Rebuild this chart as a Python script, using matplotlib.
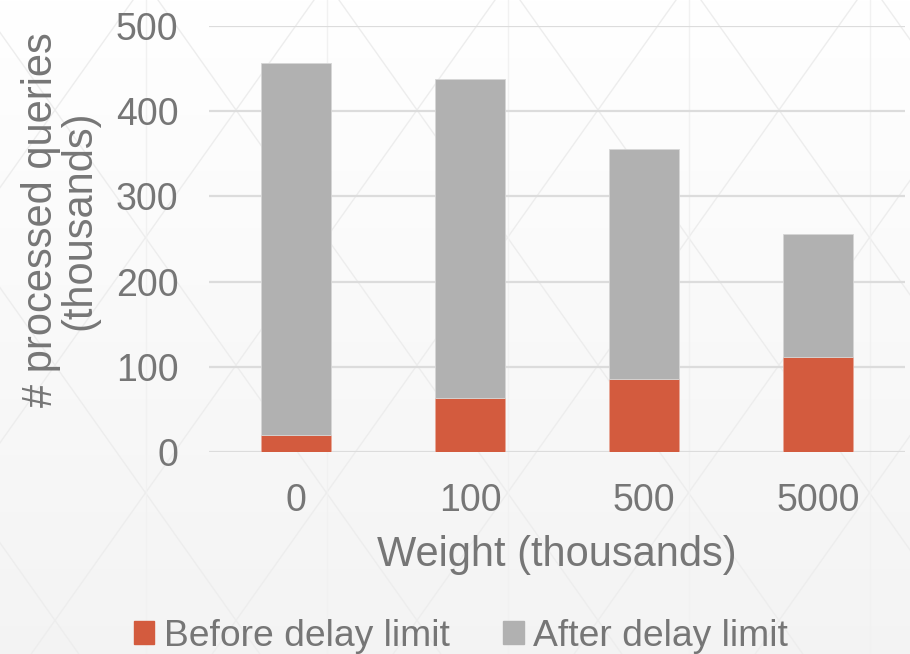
import numpy as np
import matplotlib
matplotlib.use("Agg")
import matplotlib.pyplot as plt
from matplotlib.patches import Patch

# data (thousands of queries)
weights = ["0", "100", "500", "5000"]
before_limit = [20, 63, 86, 112]
after_limit = [437, 375, 270, 144]
series_names = ["Before delay limit", "After delay limit"]

red = "#D35B3E"
grey = "#B1B1B1"
text_col = "#767676"

plt.rcParams["font.family"] = ["Liberation Sans", "DejaVu Sans"]

W, H = 910, 654
fig = plt.figure(figsize=(W / 100, H / 100), dpi=100)

# background: soft vertical gradient with a faint triangle lattice
bg = fig.add_axes([0, 0, 1, 1], zorder=-10)
grad = np.linspace(1.0, 0.955, 256).reshape(-1, 1)
bg.imshow(np.dstack([grad, grad, grad]), extent=[0, W, H, 0], aspect="auto")
slope = 1.41
period = 181
x0, y0 = 417, 110
for k in range(-12, 14):
    a = x0 + k * period
    ys = np.array([-50, H + 50])
    bg.plot(a + (ys - y0) / slope, ys, color="#ededed", lw=1.0)
    bg.plot(a - (ys - y0) / slope, ys, color="#ededed", lw=1.0)
for k in range(-3, 6):
    bg.axvline(x0 - period / 2 + k * period, color="#f1f1f1", lw=1.0)
bg.set_xlim(0, W)
bg.set_ylim(H, 0)
bg.axis("off")

ax = fig.add_axes([209 / W, 1 - 452 / H, 696 / W, 426 / H])
ax.set_facecolor("none")

x = np.arange(len(weights))
ax.bar(x, before_limit, width=0.4, color=red, edgecolor="#e8a898", lw=0.6, zorder=3)
ax.bar(x, after_limit, width=0.4, bottom=before_limit, color=grey,
       edgecolor="#d6d6d6", lw=0.6, zorder=3)

ax.set_xlim(-0.5, 3.5)
ax.set_ylim(0, 500)
ax.set_yticks(range(0, 501, 100))
ax.set_xticks(x)
ax.set_xticklabels(weights)
ax.yaxis.grid(True, color="#dcdcdc", lw=1.6, zorder=0)
ax.set_axisbelow(True)
for s in ax.spines.values():
    s.set_visible(False)
ax.tick_params(axis="both", length=0, labelsize=27, labelcolor=text_col)
ax.tick_params(axis="y", pad=22)
ax.tick_params(axis="x", pad=22)

ax.set_xlabel("Weight (thousands)", fontsize=30, color=text_col, labelpad=12)
fig.text(60 / W, 1 - 220 / H, "# processed queries\n(thousands)", rotation=90,
         ha="center", va="center", fontsize=30, color=text_col, linespacing=0.95)

handles = [Patch(color=red), Patch(color=grey)]
fig.legend(handles, series_names, loc="center", bbox_to_anchor=(461 / W, 1 - 636 / H),
           ncol=2, frameon=False, fontsize=26.8, labelcolor=text_col,
           handlelength=0.55, handleheight=0.55, handletextpad=0.25, columnspacing=1.45)

fig.savefig("out.png", dpi=100)
